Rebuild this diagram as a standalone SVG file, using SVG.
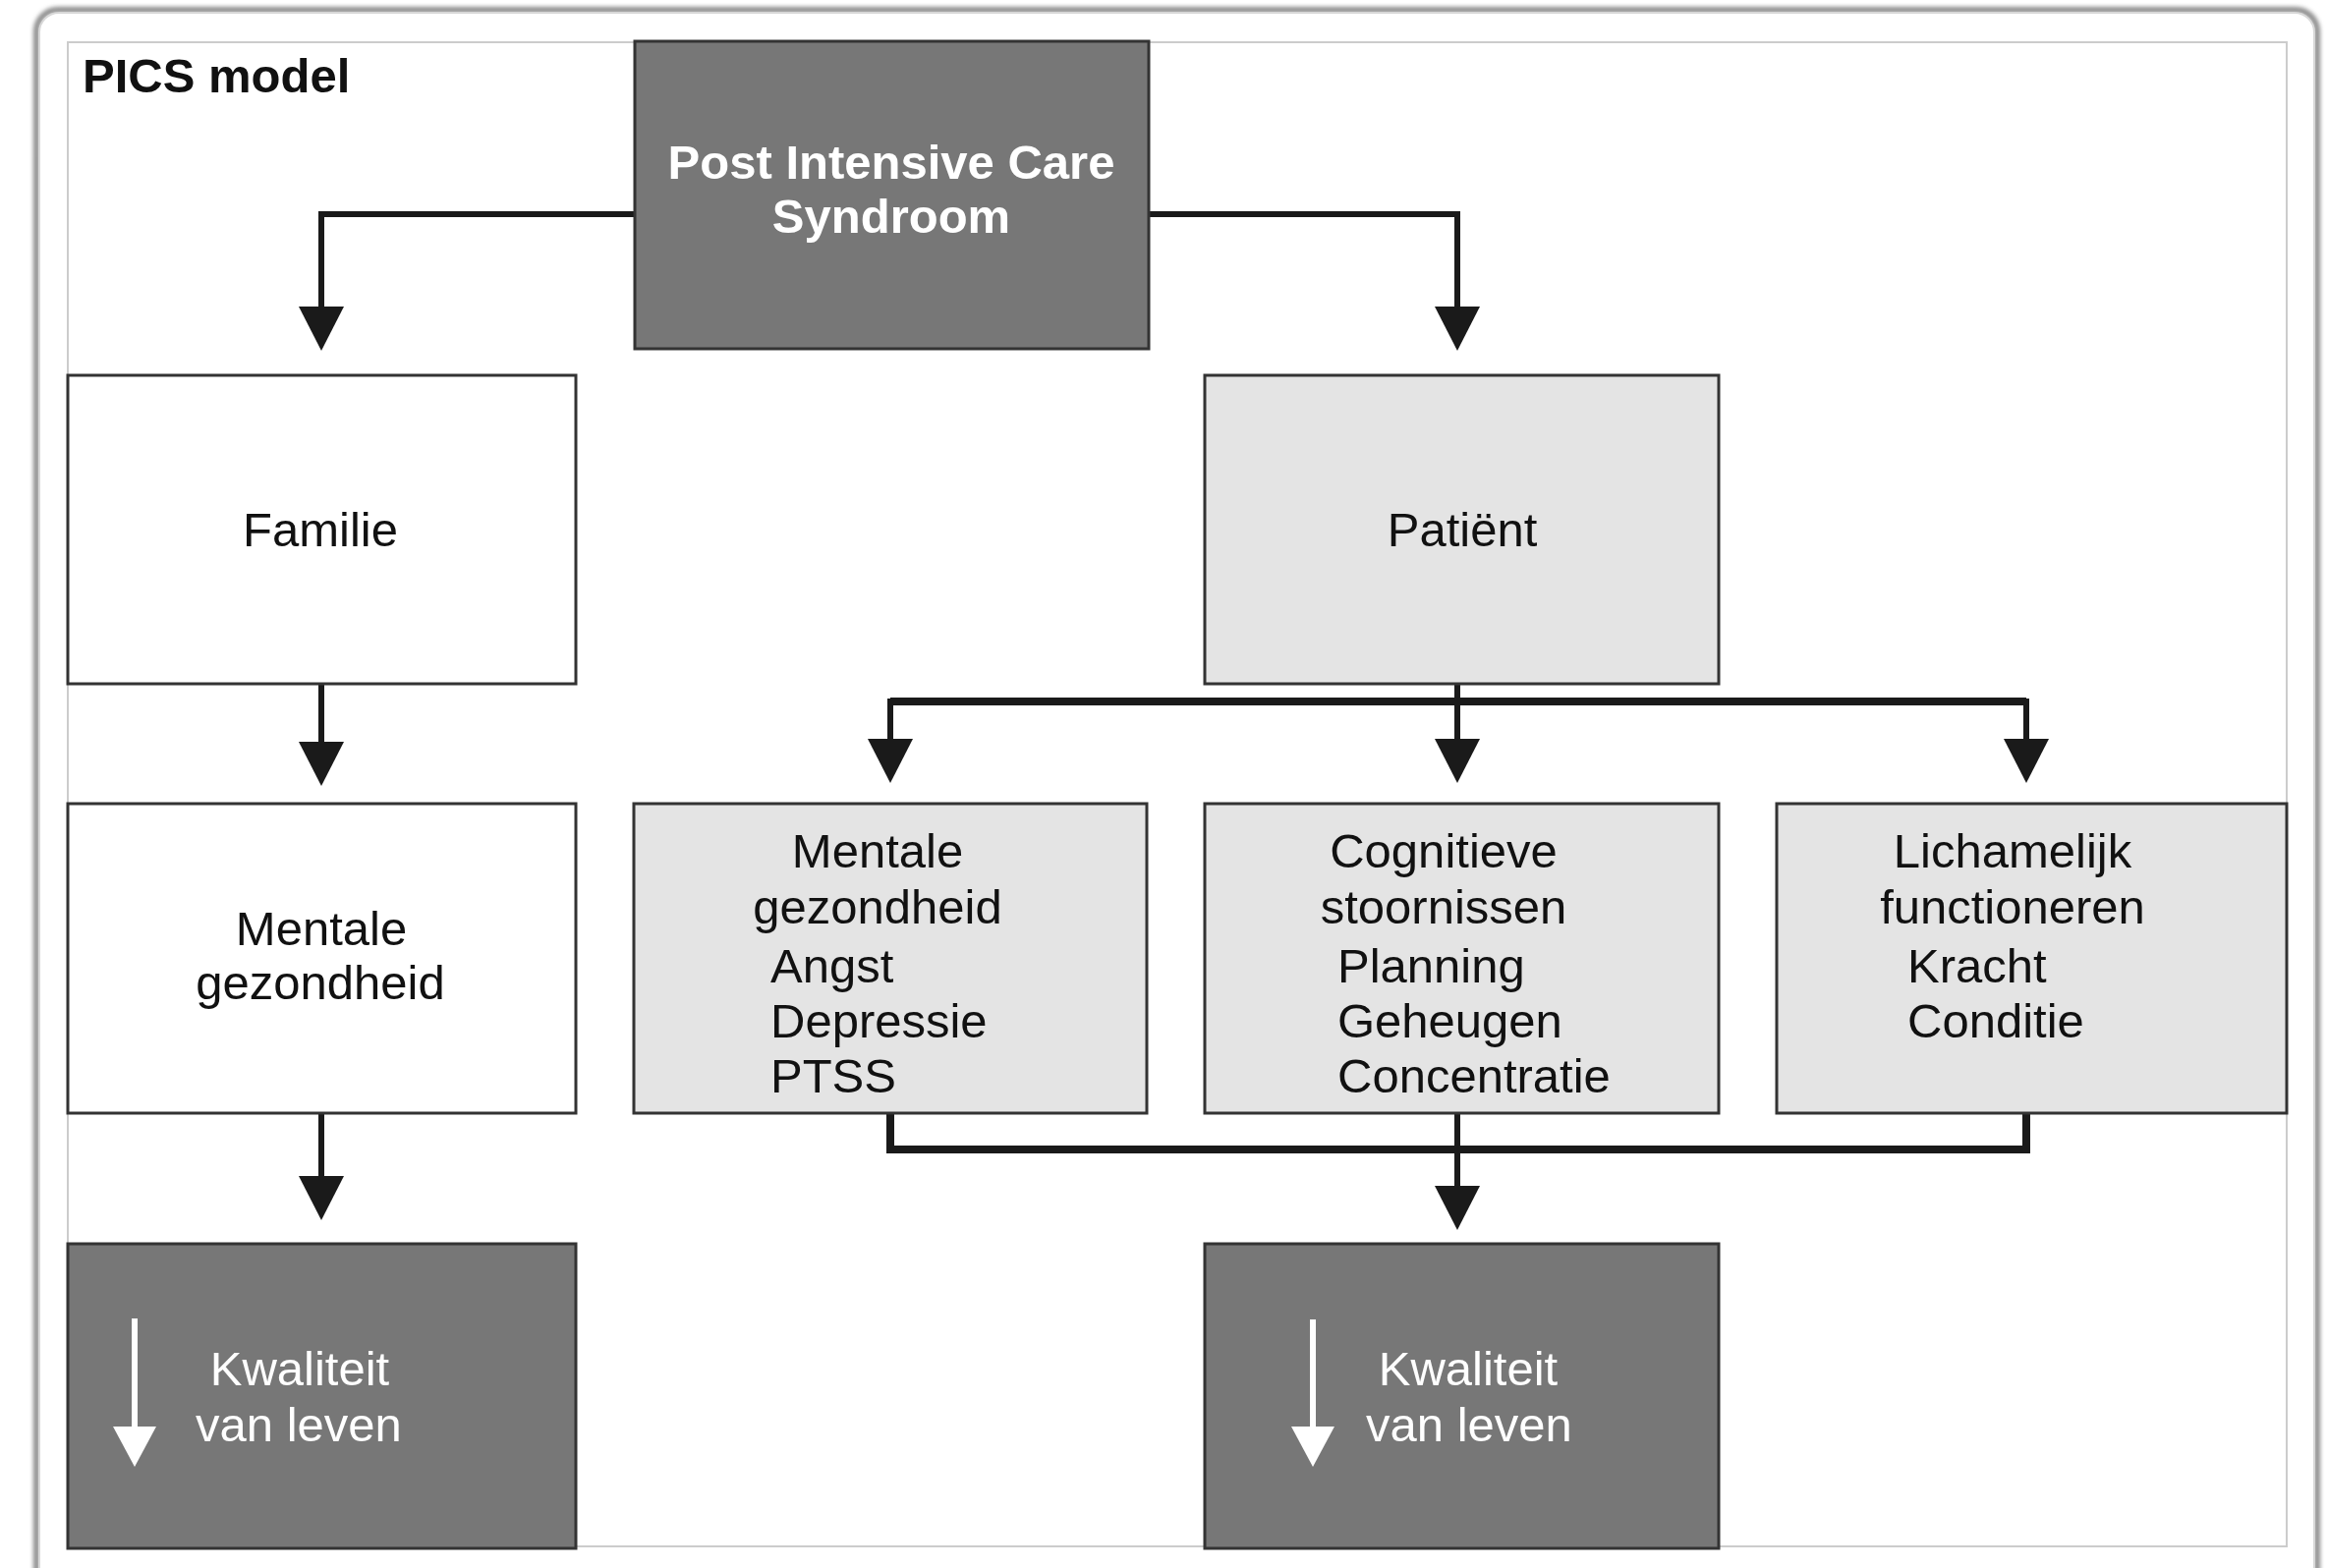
<svg xmlns="http://www.w3.org/2000/svg" width="2368" height="1596" viewBox="0 0 2368 1596">
<style>
  .t { font-family: "Liberation Sans", Arial, sans-serif; font-size: 49px; fill: #111; }
  .tb { font-family: "Liberation Sans", Arial, sans-serif; font-size: 49px; font-weight: bold; }
  .w { fill: #ffffff; }
  .c { text-anchor: middle; }
  .box { stroke: #333; stroke-width: 3; }
  .white { fill: #ffffff; }
  .light { fill: #e4e4e4; }
  .dark { fill: #777777; }
  .conn { fill: none; stroke: #1a1a1a; stroke-width: 6; }
  .bar { fill: none; stroke: #1a1a1a; stroke-width: 8; }
</style>
<defs>
  <marker id="ah" viewBox="0 0 45 46" markerWidth="45" markerHeight="46" refX="0" refY="23" orient="auto" markerUnits="userSpaceOnUse">
    <path d="M0,0 L45,23 L0,46 z" fill="#1a1a1a"/>
  </marker>
  <marker id="ahw" viewBox="0 0 41 44" markerWidth="41" markerHeight="44" refX="0" refY="22" orient="auto" markerUnits="userSpaceOnUse">
    <path d="M0,0 L41,22 L0,44 z" fill="#ffffff"/>
  </marker>
  <filter id="sh" x="-5%" y="-5%" width="110%" height="110%">
    <feGaussianBlur stdDeviation="2"/>
  </filter>
</defs>
<rect width="2368" height="1596" fill="#ffffff"/>
<!-- outer frame -->
<rect x="37" y="10" width="2321" height="1640" rx="22" fill="none" stroke="#8a8a8a" stroke-width="6" filter="url(#sh)"/>
<rect x="40" y="13" width="2315" height="1640" rx="20" fill="#ffffff" stroke="#d8d8d8" stroke-width="2"/>
<!-- inner frame -->
<rect x="69" y="43" width="2258" height="1531" fill="#ffffff" stroke="#cccccc" stroke-width="2"/>
<text class="tb" x="84" y="94" fill="#111">PICS model</text>

<g id="connectors">
  <path class="conn" d="M646,218 H327 V312" marker-end="url(#ah)"/>
  <path class="conn" d="M1169,218 H1483 V312" marker-end="url(#ah)"/>
  <path class="conn" d="M327,696 V755" marker-end="url(#ah)"/>
  <path class="conn" d="M327,1133 V1197" marker-end="url(#ah)"/>
  <path class="conn" d="M1483,696 V714"/>
  <path class="bar" d="M906,714 H2062"/>
  <path class="conn" d="M906,711 V752" marker-end="url(#ah)"/>
  <path class="conn" d="M1483,711 V752" marker-end="url(#ah)"/>
  <path class="conn" d="M2062,711 V752" marker-end="url(#ah)"/>
  <path class="bar" d="M906,1133 V1170 H2062 V1133"/>
  <path class="conn" d="M1483,1133 V1207" marker-end="url(#ah)"/>
</g>

<g id="pics">
  <rect class="box dark" x="646" y="42" width="523" height="313"/>
  <text class="tb w c" x="907" y="182">Post Intensive Care</text>
  <text class="tb w c" x="907" y="237">Syndroom</text>
</g>

<g id="familie">
  <rect class="box white" x="69" y="382" width="517" height="314"/>
  <text class="t c" x="326" y="556">Familie</text>
</g>

<g id="patient">
  <rect class="box light" x="1226" y="382" width="523" height="314"/>
  <text class="t c" x="1488" y="556">Patiënt</text>
</g>

<g id="familie-mentaal">
  <rect class="box white" x="69" y="818" width="517" height="315"/>
  <text class="t c" x="327" y="962">Mentale</text>
  <text class="t c" x="326" y="1017">gezondheid</text>
</g>

<g id="patient-mentaal">
  <rect class="box light" x="645" y="818" width="522" height="315"/>
  <text class="t c" x="893" y="883">Mentale</text>
  <text class="t c" x="893" y="940">gezondheid</text>
  <text class="t" x="784" y="1000">Angst</text>
  <text class="t" x="784" y="1056">Depressie</text>
  <text class="t" x="784" y="1112">PTSS</text>
</g>

<g id="cognitief">
  <rect class="box light" x="1226" y="818" width="523" height="315"/>
  <text class="t c" x="1469" y="883">Cognitieve</text>
  <text class="t c" x="1469" y="940">stoornissen</text>
  <text class="t" x="1361" y="1000">Planning</text>
  <text class="t" x="1361" y="1056">Geheugen</text>
  <text class="t" x="1361" y="1112">Concentratie</text>
</g>

<g id="lichamelijk">
  <rect class="box light" x="1808" y="818" width="519" height="315"/>
  <text class="t c" x="2048" y="883">Lichamelijk</text>
  <text class="t c" x="2048" y="940">functioneren</text>
  <text class="t" x="1941" y="1000">Kracht</text>
  <text class="t" x="1941" y="1056">Conditie</text>
</g>

<g id="kwaliteit-familie">
  <rect class="box dark" x="69" y="1266" width="517" height="310"/>
  <path d="M137,1342 V1452" stroke="#ffffff" stroke-width="6" fill="none" marker-end="url(#ahw)"/>
  <text class="t w c" x="305" y="1410">Kwaliteit</text>
  <text class="t w c" x="304" y="1467">van leven</text>
</g>

<g id="kwaliteit-patient">
  <rect class="box dark" x="1226" y="1266" width="523" height="310"/>
  <path d="M1336,1343 V1452" stroke="#ffffff" stroke-width="6" fill="none" marker-end="url(#ahw)"/>
  <text class="t w c" x="1494" y="1410">Kwaliteit</text>
  <text class="t w c" x="1495" y="1467">van leven</text>
</g>
</svg>
